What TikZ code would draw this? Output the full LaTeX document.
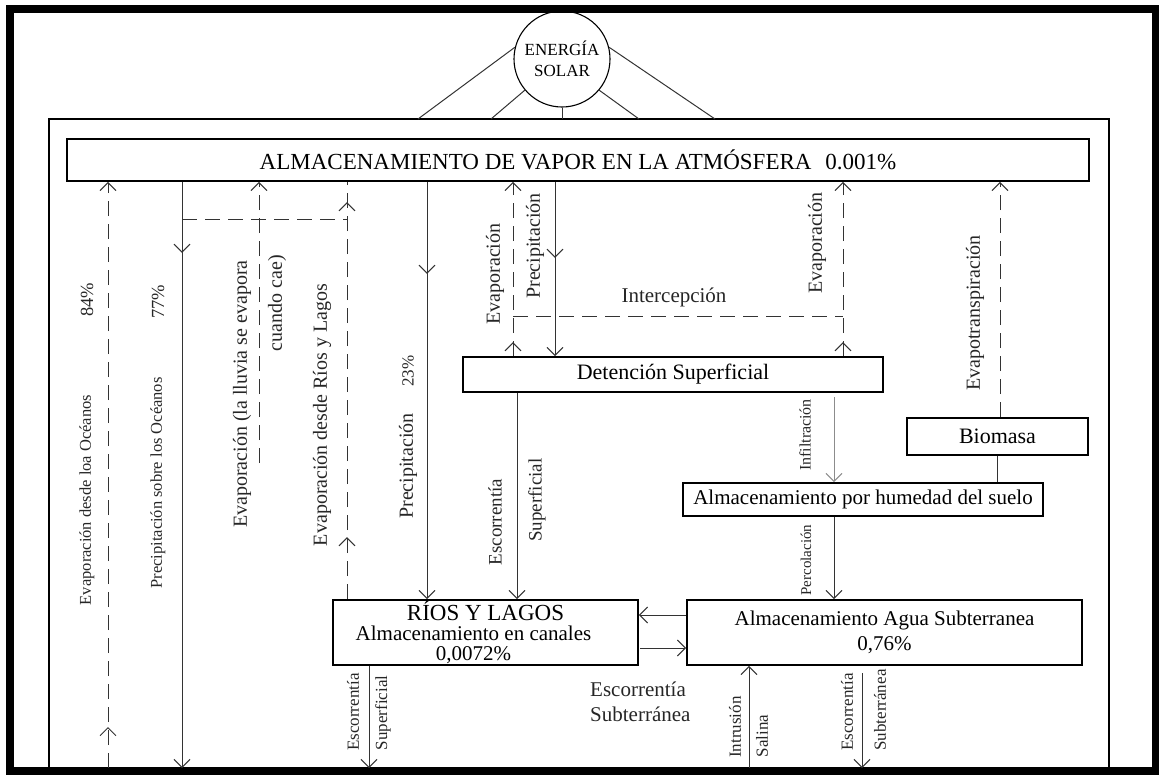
\documentclass[tikz,border=0pt]{standalone}
\usepackage{fontspec}
\setmainfont{Liberation Serif}
\usetikzlibrary{arrows.meta,decorations.markings}
\newcommand\fsz[1]{\fontsize{#1}{#1}\selectfont}
\begin{document}
\begin{tikzpicture}[x=1pt,y=-1pt,
  >={Straight Barb[length=8pt,width=16pt]},
  box/.style={draw=black, line width=1.8pt, inner sep=0pt, align=center},
  flow/.style={line width=1pt, draw=black!80},
  dsh/.style={flow, dash pattern=on 15pt off 8pt},
  vlab/.style={rotate=90, inner sep=0pt, text=black!85},
  hlab/.style={inner sep=0pt, text=black!85},
  midarrow/.style={postaction={decorate,decoration={markings,mark=at position #1 with {\arrow{>}}}}},
]
\useasboundingbox (0,0) rectangle (1159,774);
% outer screenshot border
\draw[line width=8pt] (9.5,9) rectangle (1156,771);
% inner frame
\coordinate (fTL) at (49,119);
\coordinate (fTR) at (1109,119);
\coordinate (fBL) at (49,772);
\coordinate (fBR) at (1109,772);
\draw[line width=1.5pt] (fBL) -- (fTL) -- (fTR) -- (fBR);

% sun
\node[circle, draw, line width=1.1pt, minimum size=96pt, inner sep=0pt, align=center,
      font=\fontsize{17}{21}\selectfont] (sun) at (562,59) {ENERGÍA\\SOLAR};
\coordinate (s1) at (418,119);
\coordinate (s2) at (491,119);
\coordinate (s3) at (562,119);
\coordinate (s4) at (639,119);
\coordinate (s5) at (715,119);
\draw[flow] (sun.166) -- (s1);
\draw[flow] (sun.220) -- (s2);
\draw[flow] (sun.270) -- (s3);
\draw[flow] (sun.320) -- (s4);
\draw[flow] (sun.14) -- (s5);

% boxes
\node[box, minimum width=1022pt, minimum height=42pt, font=\fsz{23}] (atm) at (578,160)
  {ALMACENAMIENTO DE VAPOR EN LA ATMÓSFERA\hspace{0.6em}0.001\%};
\node[box, minimum width=420pt, minimum height=35pt, font=\fsz{22}] (det) at (673,374.5)
  {Detención Superficial};
\node[box, minimum width=181pt, minimum height=37pt, font=\fsz{22}] (bio) at (997.5,436.5)
  {Biomasa};
\node[box, minimum width=360pt, minimum height=33pt, font=\fsz{21}] (hum) at (863,499.5)
  {Almacenamiento por humedad del suelo};
\node[box, minimum width=305pt, minimum height=65pt, font=\fontsize{21}{20}\selectfont] (rios) at (485.5,632.5)
  {{\fontsize{23}{20}\selectfont RÍOS Y LAGOS}\\Almacenamiento en canales\rule{24pt}{0pt}\\0,0072\%\rule{24pt}{0pt}};
\node[box, minimum width=395pt, minimum height=65pt, font=\fontsize{21}{25}\selectfont] (agua) at (884.5,632.5)
  {Almacenamiento Agua Subterranea\\0,76\%};

% column helpers
\coordinate (X1) at (108,0);
\coordinate (X2) at (182,0);
\coordinate (X3) at (259,0);
\coordinate (X4) at (347,0);
\coordinate (X5) at (427,0);
\coordinate (X6) at (513,0);
\coordinate (X7) at (555,0);
\coordinate (X8) at (843,0);
\coordinate (X9) at (517,0);
\coordinate (X10) at (834,0);
\coordinate (X11) at (1000,0);
\coordinate (X13) at (369,0);
\coordinate (X14) at (749,0);
\coordinate (Ya) at (0,615);
\coordinate (Yb) at (0,648);
\coordinate (Yi) at (0,316);
\coordinate (b1) at (108,768);
\coordinate (b2) at (182,768);
\coordinate (b3) at (369,768);
\coordinate (b4) at (749,768);
\coordinate (b5) at (862,768);
\coordinate (e3) at (259,463);
\coordinate (h1) at (182,219);
\coordinate (h2) at (347,219);
\coordinate (inf0) at (834,397);
\coordinate (es0) at (862,673);
\coordinate (rb) at (640,648);

% connectors
\draw[dsh,->,midarrow=41pt] (b1) -- (X1 |- atm.south);
\draw[flow,->,midarrow=71pt] (X2 |- atm.south) -- (b2);
\draw[dsh,->] (e3) -- (X3 |- atm.south);
\draw[dsh] (h1) -- (h2);
\draw[dsh,midarrow=62pt,midarrow=397pt] (X4 |- rios.north) -- (X4 |- atm.south);
\draw[flow,->,midarrow=92pt] (X5 |- atm.south) -- (X5 |- rios.north);
\draw[dsh,->,midarrow=14pt] (X6 |- det.north) -- (X6 |- atm.south);
\draw[flow,->,midarrow=76pt] (X7 |- atm.south) -- (X7 |- det.north);
\draw[dsh] (X6 |- Yi) -- (X8 |- Yi);
\draw[dsh,->,midarrow=14pt] (X8 |- det.north) -- (X8 |- atm.south);
\draw[flow,->] (X9 |- det.south) -- (X9 |- rios.north);
\draw[flow,draw=black!45,->] (inf0) -- (X10 |- hum.north);
\draw[dsh,->] (X11 |- bio.north) -- (X11 |- atm.south);
\draw[flow] (bio.south) -- (bio.south |- hum.north);
\draw[flow,->] (X10 |- hum.south) -- (X10 |- agua.north);
\draw[flow,->] (agua.west |- Ya) -- (rios.east |- Ya);
\draw[flow,->] (rb) -- (agua.west |- Yb);
\draw[flow,->] (X13 |- rios.south) -- (b3);
\draw[flow,->] (b4) -- (X14 |- agua.south);
\draw[flow,->] (es0) -- (b5);

% labels
\node[vlab, font=\fsz{16.5}] (l1) at (87,500) {Evaporación desde loa Océanos};
\node[vlab, font=\fsz{18.5}] (l1p) at (87,300) {84\%};
\node[vlab, font=\fsz{16.5}] (l2) at (158,483) {Precipitación sobre los Océanos};
\node[vlab, font=\fsz{18.5}] (l2p) at (158,302) {77\%};
\node[vlab, font=\fsz{20}, anchor=east] (l3a) at (242,260) {Evaporación (la lluvia se evapora};
\node[vlab, font=\fsz{20}, anchor=east] (l3b) at (277,255) {cuando cae)};
\node[vlab, font=\fsz{20}] (l4) at (322,415) {Evaporación desde Ríos y Lagos};
\node[vlab, font=\fsz{20}] (l5) at (408,466) {Precipitación};
\node[vlab, font=\fsz{17}] (l5p) at (408,371) {23\%};
\node[vlab, font=\fsz{20}] (l6) at (495,274) {Evaporación};
\node[vlab, font=\fsz{20}] (l7) at (535,246) {Precipitación};
\node[hlab, font=\fsz{21}] (lint) at (674,297) {Intercepción};
\node[vlab, font=\fsz{20}] (l8) at (817,243) {Evaporación};
\node[vlab, font=\fsz{19}] (l9a) at (495,522) {Escorrentía};
\node[vlab, font=\fsz{19}] (l9b) at (537,500) {Superficial};
\node[vlab, font=\fsz{16}] (l10) at (805,435) {Infiltración};
\node[vlab, font=\fsz{20}] (l11) at (975,313) {Evapotranspiración};
\node[vlab, font=\fsz{15}] (l12) at (806,560) {Percolación};
\node[vlab, font=\fsz{17}] (l13a) at (353,712) {Escorrentía};
\node[vlab, font=\fsz{17}] (l13b) at (383,713) {Superficial};
\node[hlab, font=\fontsize{21}{25}\selectfont, align=left, anchor=west] (l14) at (590,702) {Escorrentía\\Subterránea};
\node[vlab, font=\fsz{17}] (l15a) at (735,727) {Intrusión};
\node[vlab, font=\fsz{17}] (l15b) at (762,736) {Salina};
\node[vlab, font=\fsz{17}] (l16a) at (847,712) {Escorrentía};
\node[vlab, font=\fsz{17}] (l16b) at (880,710) {Subterránea};
\end{tikzpicture}
\end{document}
